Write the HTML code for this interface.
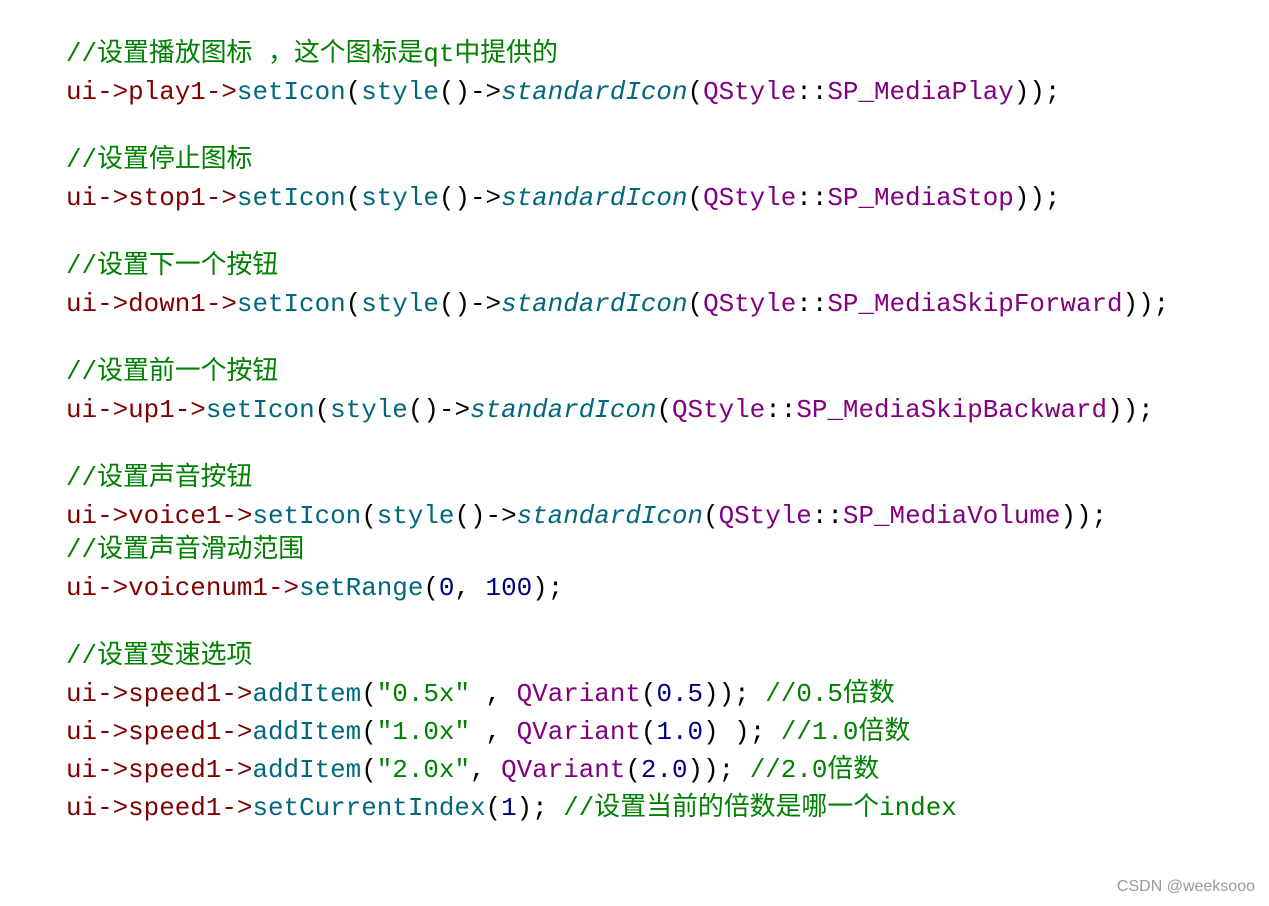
<!DOCTYPE html>
<html><head><meta charset="utf-8"><style>
body{margin:0;width:1269px;height:906px;background:#fff;position:relative;overflow:hidden}
.l{position:absolute;left:66px;height:38px;line-height:38px;white-space:pre;font-family:"Liberation Mono","Noto Sans CJK SC",monospace;font-size:25.9px;color:#000;margin-top:2px}
.c{color:#008000}.u{color:#800000}.m{color:#00677c}.i{color:#00677c;font-style:italic}.p{color:#800080}.n{color:#000080}.s{color:#008000}
.w{position:absolute;right:14px;top:878px;font-family:"Liberation Sans","Noto Sans CJK SC",sans-serif;font-size:16px;color:#999}
</style></head><body>
<div class="l c" style="top:33px">//设置播放图标 ，这个图标是qt中提供的</div>
<div class="l" style="top:71px"><span class="u">ui-&gt;play1-&gt;</span><span class="m">setIcon</span>(<span class="m">style</span>()-&gt;<span class="i">standardIcon</span>(<span class="p">QStyle</span>::<span class="p">SP_MediaPlay</span>));</div>
<div class="l c" style="top:139px">//设置停止图标</div>
<div class="l" style="top:177px"><span class="u">ui-&gt;stop1-&gt;</span><span class="m">setIcon</span>(<span class="m">style</span>()-&gt;<span class="i">standardIcon</span>(<span class="p">QStyle</span>::<span class="p">SP_MediaStop</span>));</div>
<div class="l c" style="top:245px">//设置下一个按钮</div>
<div class="l" style="top:283px"><span class="u">ui-&gt;down1-&gt;</span><span class="m">setIcon</span>(<span class="m">style</span>()-&gt;<span class="i">standardIcon</span>(<span class="p">QStyle</span>::<span class="p">SP_MediaSkipForward</span>));</div>
<div class="l c" style="top:351px">//设置前一个按钮</div>
<div class="l" style="top:389px"><span class="u">ui-&gt;up1-&gt;</span><span class="m">setIcon</span>(<span class="m">style</span>()-&gt;<span class="i">standardIcon</span>(<span class="p">QStyle</span>::<span class="p">SP_MediaSkipBackward</span>));</div>
<div class="l c" style="top:457px">//设置声音按钮</div>
<div class="l" style="top:495px"><span class="u">ui-&gt;voice1-&gt;</span><span class="m">setIcon</span>(<span class="m">style</span>()-&gt;<span class="i">standardIcon</span>(<span class="p">QStyle</span>::<span class="p">SP_MediaVolume</span>));</div>
<div class="l c" style="top:529px">//设置声音滑动范围</div>
<div class="l" style="top:567px"><span class="u">ui-&gt;voicenum1-&gt;</span><span class="m">setRange</span>(<span class="n">0</span>, <span class="n">100</span>);</div>
<div class="l c" style="top:635px">//设置变速选项</div>
<div class="l" style="top:673px"><span class="u">ui-&gt;speed1-&gt;</span><span class="m">addItem</span>(<span class="s">"0.5x"</span> , <span class="p">QVariant</span>(<span class="n">0.5</span>)); <span class="c">//0.5倍数</span></div>
<div class="l" style="top:711px"><span class="u">ui-&gt;speed1-&gt;</span><span class="m">addItem</span>(<span class="s">"1.0x"</span> , <span class="p">QVariant</span>(<span class="n">1.0</span>) ); <span class="c">//1.0倍数</span></div>
<div class="l" style="top:749px"><span class="u">ui-&gt;speed1-&gt;</span><span class="m">addItem</span>(<span class="s">"2.0x"</span>, <span class="p">QVariant</span>(<span class="n">2.0</span>)); <span class="c">//2.0倍数</span></div>
<div class="l" style="top:787px"><span class="u">ui-&gt;speed1-&gt;</span><span class="m">setCurrentIndex</span>(<span class="n">1</span>); <span class="c">//设置当前的倍数是哪一个index</span></div>
<div class="w">CSDN @weeksooo</div>
</body></html>
